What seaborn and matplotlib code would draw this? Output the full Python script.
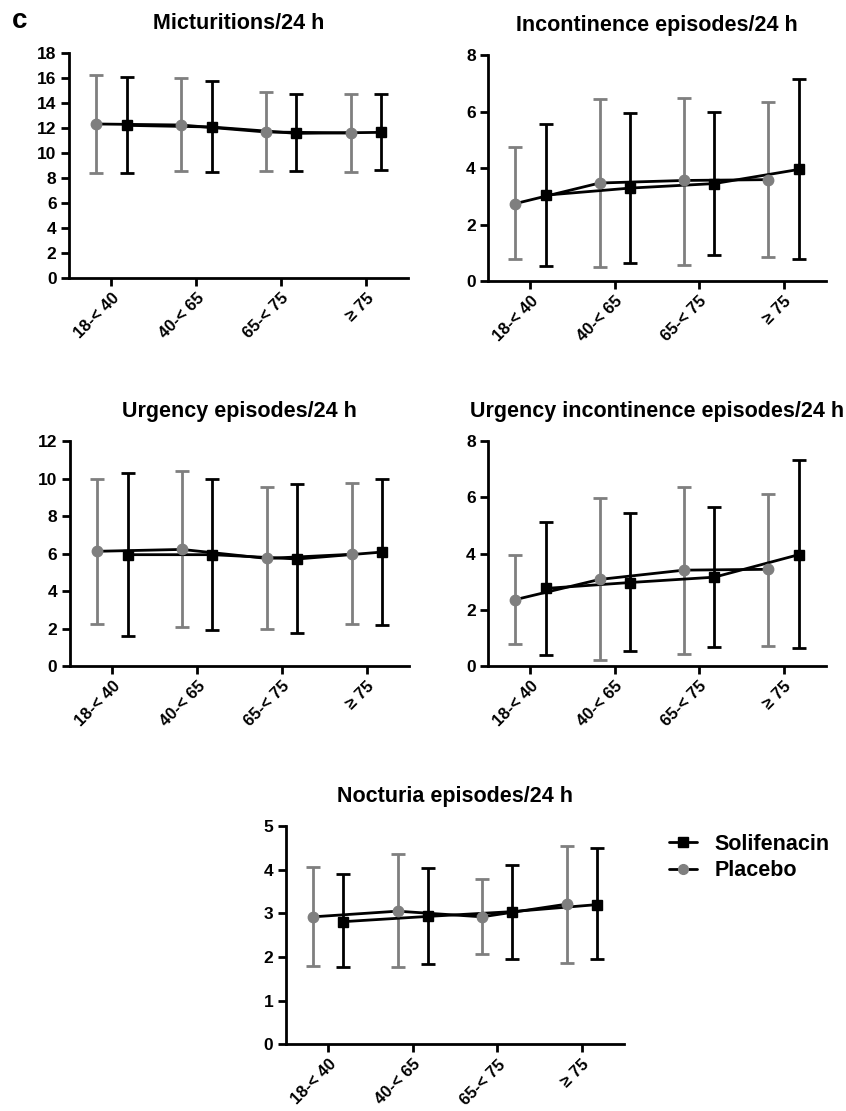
import matplotlib
matplotlib.use('Agg')
import matplotlib.pyplot as plt
import numpy as np
import pandas as pd
import seaborn as sns
from matplotlib.lines import Line2D

# categorias de idade
grupos_idade = ['18-< 40', '40-< 65', '65-< 75', '≥ 75']

# Micturitions/24 h
mic_sol = [12.21, 12.08, 11.57, 11.65]
mic_sol_lo = [8.40, 8.48, 8.53, 8.61]
mic_sol_hi = [16.08, 15.76, 14.69, 14.72]
mic_pla = [12.32, 12.24, 11.68, 11.60]
mic_pla_lo = [8.40, 8.56, 8.53, 8.45]
mic_pla_hi = [16.24, 15.97, 14.85, 14.72]

# Incontinence episodes/24 h
inc_sol = [3.04, 3.29, 3.45, 3.95]
inc_sol_lo = [0.54, 0.63, 0.91, 0.78]
inc_sol_hi = [5.56, 5.96, 5.98, 7.14]
inc_pla = [2.74, 3.47, 3.56, 3.59]
inc_pla_lo = [0.77, 0.51, 0.57, 0.86]
inc_pla_hi = [4.74, 6.43, 6.49, 6.34]

# Urgency episodes/24 h
urg_sol = [5.94, 5.94, 5.71, 6.08]
urg_sol_lo = [1.58, 1.90, 1.74, 2.19]
urg_sol_hi = [10.28, 9.99, 9.71, 9.97]
urg_pla = [6.12, 6.22, 5.74, 5.96]
urg_pla_lo = [2.24, 2.10, 1.96, 2.22]
urg_pla_hi = [9.99, 10.40, 9.56, 9.74]

# Urgency incontinence episodes/24 h
uui_sol = [2.76, 2.97, 3.16, 3.96]
uui_sol_lo = [0.39, 0.53, 0.68, 0.64]
uui_sol_hi = [5.12, 5.43, 5.66, 7.31]
uui_pla = [2.36, 3.08, 3.41, 3.44]
uui_pla_lo = [0.78, 0.20, 0.44, 0.72]
uui_pla_hi = [3.95, 5.96, 6.36, 6.13]

# Nocturia episodes/24 h
noc_sol = [2.81, 2.93, 3.04, 3.20]
noc_sol_lo = [1.76, 1.83, 1.96, 1.95]
noc_sol_hi = [3.89, 4.05, 4.10, 4.49]
noc_pla = [2.92, 3.05, 2.92, 3.21]
noc_pla_lo = [1.79, 1.76, 2.07, 1.87]
noc_pla_hi = [4.07, 4.35, 3.79, 4.54]

sns.set_theme(style='ticks')
plt.rcParams['font.family'] = ['Liberation Sans', 'DejaVu Sans']
plt.rcParams['font.weight'] = 'bold'
plt.rcParams['text.color'] = 'black'
plt.rcParams['axes.labelcolor'] = 'black'
plt.rcParams['xtick.color'] = 'black'
plt.rcParams['ytick.color'] = 'black'

cinza = '#7f7f7f'
desloc = 0.18


def montar_df(sol, sol_lo, sol_hi, pla, pla_lo, pla_hi):
    linhas = []
    for nome, m, lo, hi, d in [('Solifenacin', sol, sol_lo, sol_hi, desloc),
                               ('Placebo', pla, pla_lo, pla_hi, -desloc)]:
        for i in range(len(grupos_idade)):
            linhas.append({'grupo': nome, 'pos': i + d, 'media': m[i],
                           'lo': lo[i], 'hi': hi[i]})
    return pd.DataFrame(linhas)


def desenhar(ax, df, titulo, ymax, passo):
    for nome, cor, marc in [('Placebo', cinza, 'o'), ('Solifenacin', 'black', 's')]:
        sub = df[df['grupo'] == nome]
        ax.errorbar(sub['pos'], sub['media'],
                    yerr=[sub['media'] - sub['lo'], sub['hi'] - sub['media']],
                    fmt='none', ecolor=cor, elinewidth=2, capsize=5, capthick=2, zorder=2)
    sns.lineplot(data=df, x='pos', y='media', units='grupo', estimator=None,
                 color='black', linewidth=2, ax=ax, zorder=3, legend=False)
    for nome, cor, marc in [('Placebo', cinza, 'o'), ('Solifenacin', 'black', 's')]:
        sub = df[df['grupo'] == nome]
        ax.plot(sub['pos'], sub['media'], linestyle='none', marker=marc,
                markersize=7.5, color=cor, zorder=4)
    ax.set_xlim(-0.5, 3.5)
    ax.set_ylim(0, ymax)
    ax.set_yticks(np.arange(0, ymax + 0.01, passo))
    ax.set_xticks(range(len(grupos_idade)))
    ax.set_xticklabels(grupos_idade, rotation=45, ha='right', va='top',
                       rotation_mode='anchor', fontsize=12, fontweight='bold')
    for lab in ax.get_yticklabels():
        lab.set_fontweight('bold')
        lab.set_fontsize(12.5)
    ax.tick_params(axis='both', width=2, length=6, direction='out', colors='black', pad=3)
    for s in ['left', 'bottom']:
        ax.spines[s].set_linewidth(2)
        ax.spines[s].set_color('black')
    sns.despine(ax=ax)
    ax.set_xlabel('')
    ax.set_ylabel('')
    ax.set_title(titulo, fontsize=15.5, fontweight='bold', pad=17, color='black')


fig = plt.figure(figsize=(8.46, 11.11), dpi=100)

ax1 = fig.add_axes([0.0816, 0.7498, 0.401, 0.2025])
ax2 = fig.add_axes([0.577, 0.747, 0.399, 0.2035])
ax3 = fig.add_axes([0.0827, 0.4005, 0.401, 0.2025])
ax4 = fig.add_axes([0.577, 0.4005, 0.399, 0.2025])
ax5 = fig.add_axes([0.338, 0.060, 0.3996, 0.1965])

desenhar(ax1, montar_df(mic_sol, mic_sol_lo, mic_sol_hi, mic_pla, mic_pla_lo, mic_pla_hi),
         'Micturitions/24 h', 18, 2)
desenhar(ax2, montar_df(inc_sol, inc_sol_lo, inc_sol_hi, inc_pla, inc_pla_lo, inc_pla_hi),
         'Incontinence episodes/24 h', 8, 2)
desenhar(ax3, montar_df(urg_sol, urg_sol_lo, urg_sol_hi, urg_pla, urg_pla_lo, urg_pla_hi),
         'Urgency episodes/24 h', 12, 2)
desenhar(ax4, montar_df(uui_sol, uui_sol_lo, uui_sol_hi, uui_pla, uui_pla_lo, uui_pla_hi),
         'Urgency incontinence episodes/24 h', 8, 2)
desenhar(ax5, montar_df(noc_sol, noc_sol_lo, noc_sol_hi, noc_pla, noc_pla_lo, noc_pla_hi),
         'Nocturia episodes/24 h', 5, 1)

fig.text(0.014, 0.981, 'c', fontsize=20, fontweight='bold', va='center', ha='left')

handles = [Line2D([], [], color='black', linewidth=2, marker='s', markersize=7,
                  markerfacecolor='black', markeredgecolor='black'),
           Line2D([], [], color='black', linewidth=2, marker='o', markersize=7,
                  markerfacecolor=cinza, markeredgecolor=cinza)]
fig.legend(handles, ['Solifenacin', 'Placebo'], loc='center left',
           bbox_to_anchor=(0.768, 0.228), frameon=False, handlelength=1.3,
           handletextpad=0.8, labelspacing=0.25,
           prop={'size': 15.5, 'weight': 'bold'})

fig.savefig('out.png', dpi=100)
